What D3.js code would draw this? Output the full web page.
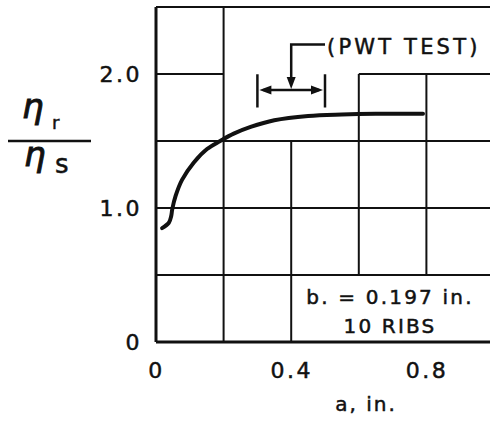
<!DOCTYPE html>
<html>
<head>
<meta charset="utf-8">
<script src="https://cdn.jsdelivr.net/npm/d3@7"></script>
<style>
  body { margin: 0; background: #fff; }
  svg text { font-family: "DejaVu Sans", sans-serif; fill: #111; stroke: #111; stroke-width: 0.5px; }
</style>
</head>
<body>
<svg id="chart" width="490" height="423"></svg>
<script>
  // curve
  var aVals   = [0.018, 0.038, 0.045, 0.048, 0.058, 0.077, 0.112, 0.151, 0.19, 0.23, 0.28, 0.35, 0.45, 0.55, 0.65, 0.79];
  var etaVals = [0.85, 0.89, 0.94, 0.99, 1.09, 1.21, 1.34, 1.44, 1.50, 1.555, 1.605, 1.655, 1.687, 1.698, 1.703, 1.703];

  var xTicks = [0, 0.4, 0.8];
  var xTickLabels = ["0", "0.4", "0.8"];
  var yTicks = [0, 1, 2];
  var yTickLabels = ["0", "1.0", "2.0"];

  // drafting grid: partial lines, in data units
  var vGrid = [[0.2, 0, 2.5], [0.4, 0, 1.5], [0.6, 0.5, 2.0], [0.8, 0.5, 2.0]];
  var hGrid = [[0.5, 0, 1], [1.0, 0, 1], [1.5, 0, 1], [2.0, 0, 0.2], [2.0, 0.6, 1], [2.5, 0, 1]];

  // PWT test range
  var pwtRange = [0.3, 0.5];
  var pwtLabel = "(PWT TEST)";
  var noteLines = ["b. = 0.197 in.", "10 RIBS"];

  var svg = d3.select("#chart");
  var x = d3.scaleLinear().domain([0, 1]).range([156, 494]);
  var y = d3.scaleLinear().domain([0, 2.5]).range([342, 7]);

  var g = svg.append("g");

  g.selectAll("line.v").data(vGrid).enter().append("line")
      .attr("x1", d => x(d[0])).attr("x2", d => x(d[0]))
      .attr("y1", d => y(d[1])).attr("y2", d => y(d[2]))
      .attr("stroke", "#111").attr("stroke-width", 2);
  g.selectAll("line.h").data(hGrid).enter().append("line")
      .attr("y1", d => y(d[0])).attr("y2", d => y(d[0]))
      .attr("x1", d => x(d[1])).attr("x2", d => x(d[2]))
      .attr("stroke", "#111").attr("stroke-width", 2);

  // axes
  var yAxis = d3.axisLeft(y).tickValues(yTicks).tickSize(0).tickPadding(14)
      .tickFormat((d, i) => yTickLabels[i]);
  var xAxis = d3.axisBottom(x).tickValues(xTicks).tickSize(0).tickPadding(20)
      .tickFormat((d, i) => xTickLabels[i]);

  var ya = svg.append("g").attr("transform", "translate(" + x(0) + ",0)").call(yAxis);
  var xa = svg.append("g").attr("transform", "translate(0," + y(0) + ")").call(xAxis);
  [ya, xa].forEach(function (a) {
      a.select(".domain").attr("stroke", "#111").attr("stroke-width", 3);
      a.selectAll("text").attr("font-family", "DejaVu Sans").attr("font-size", 22)
          .style("letter-spacing", "2.5px").attr("fill", "#111");
  });
  ya.select(".domain").attr("d", "M0," + y(0) + "V" + y(2.5));
  xa.select(".domain").attr("d", "M" + x(0) + ",0H490");

  // curve
  var pts = aVals.map((a, i) => [a, etaVals[i]]);
  svg.append("path").datum(pts)
      .attr("fill", "none").attr("stroke", "#111").attr("stroke-width", 4)
      .attr("stroke-linecap", "round")
      .attr("d", d3.line().x(d => x(d[0])).y(d => y(d[1])).curve(d3.curveCatmullRom));

  // PWT bracket
  var bTop = y(1.998), bBot = y(1.75), bMid = y(1.88), aMid = (pwtRange[0] + pwtRange[1]) / 2;
  var ann = svg.append("g").attr("stroke", "#111").attr("stroke-width", 2.5);
  pwtRange.forEach(function (v) {
      ann.append("line").attr("x1", x(v)).attr("x2", x(v)).attr("y1", bTop).attr("y2", bBot);
  });
  ann.append("line").attr("x1", x(pwtRange[0]) + 6).attr("x2", x(pwtRange[1]) - 6)
      .attr("y1", bMid).attr("y2", bMid);
  ann.append("path").attr("fill", "none")
      .attr("d", "M" + x(0.5) + "," + y(2.22) + "H" + x(aMid) + "V" + (bMid - 8));
  var heads = svg.append("g").attr("fill", "#111");
  heads.append("path").attr("d", "M" + (x(pwtRange[0]) + 2) + "," + bMid + "l12,-4.5v9z");
  heads.append("path").attr("d", "M" + (x(pwtRange[1]) - 2) + "," + bMid + "l-12,-4.5v9z");
  heads.append("path").attr("d", "M" + x(aMid) + "," + (bMid - 1) + "l-4.5,-12h9z");
  svg.append("text").attr("x", x(0.5) + 2).attr("y", 53.5)
      .attr("font-size", 21).style("letter-spacing", "3.2px").text(pwtLabel);

  // note in the lower right cell
  svg.selectAll("text.note").data(noteLines).enter().append("text")
      .attr("x", 390).attr("y", (d, i) => 304 + i * 29)
      .attr("text-anchor", "middle").attr("font-size", 20)
      .style("letter-spacing", "2.2px").text(d => d);

  // x axis title
  svg.append("text").attr("x", 366).attr("y", 411).attr("text-anchor", "middle")
      .attr("font-size", 20).style("letter-spacing", "2px").text("a, in.");

  // y axis title: eta_r / eta_s
  var yt = svg.append("g");
  yt.append("text").attr("x", 22).attr("y", 118).attr("font-family", "DejaVu Serif")
      .attr("font-style", "italic").attr("font-size", 34).style("stroke-width", "1px").text("η");
  yt.append("text").attr("x", 52).attr("y", 129).attr("font-size", 18).text("r");
  yt.append("line").attr("x1", 8).attr("x2", 91).attr("y1", 141).attr("y2", 141)
      .attr("stroke", "#111").attr("stroke-width", 2.7);
  yt.append("text").attr("x", 24).attr("y", 166).attr("font-family", "DejaVu Serif")
      .attr("font-style", "italic").attr("font-size", 34).style("stroke-width", "1px").text("η");
  yt.append("text").attr("x", 55).attr("y", 173).attr("font-size", 26).text("s");
</script>
</body>
</html>
